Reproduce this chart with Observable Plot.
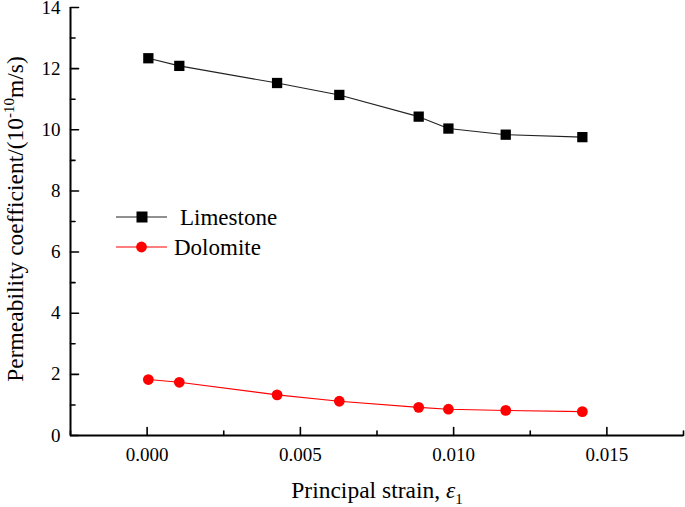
<!DOCTYPE html>
<html><head><meta charset="utf-8">
<script src="https://cdn.jsdelivr.net/npm/d3@7"></script>
<script src="https://cdn.jsdelivr.net/npm/@observablehq/plot@0.6"></script>
<style>body{margin:0;background:#fff}</style>
</head><body><div id="chart"></div>
<script>
const strain = [0.00004, 0.00105, 0.00424, 0.00627, 0.00886, 0.00983, 0.0117, 0.0142];
const limestone = [12.34, 12.09, 11.53, 11.14, 10.43, 10.04, 9.84, 9.76];
const dolomite = [1.83, 1.74, 1.33, 1.12, 0.92, 0.86, 0.82, 0.78];
const seriesNames = ["Limestone", "Dolomite"];
const xMajor = [0, 0.005, 0.010, 0.015];
const xMinor = [-0.0025, 0.0025, 0.0075, 0.0125, 0.0175];
const yMajor = [0, 2, 4, 6, 8, 10, 12, 14];
const yMinor = [1, 3, 5, 7, 9, 11, 13];

const FONT = "Liberation Serif, Times New Roman, serif";
const lime = strain.map((x, i) => ({x, y: limestone[i]}));
const dolo = strain.map((x, i) => ({x, y: dolomite[i]}));
const tickShape = {draw(ctx, l) { ctx.moveTo(0, 0); ctx.lineTo(0, -l); }};

const plot = Plot.plot({
  width: 685, height: 507,
  marginLeft: 70, marginRight: 2, marginTop: 7, marginBottom: 72,
  style: {fontFamily: FONT, background: "white"},
  x: {domain: [-0.0025, 0.0175]},
  y: {domain: [0, 14]},
  marks: [
    Plot.axisX(xMajor, {tickSize: 0, tickPadding: 12, tickFormat: d3.format(".3f"), fontSize: 19, fontFamily: FONT, label: null, color: "black"}),
    Plot.axisY(yMajor, {tickSize: 0, tickPadding: 10, fontSize: 19, fontFamily: FONT, label: null, color: "black"}),
    Plot.vector(xMajor, {x: d => d, y: 0, length: 8, rotate: 0, anchor: "start", shape: tickShape, stroke: "black", strokeWidth: 1.6}),
    Plot.vector(xMinor, {x: d => d, y: 0, length: 4.5, rotate: 0, anchor: "start", shape: tickShape, stroke: "black", strokeWidth: 1.6}),
    Plot.vector(yMajor, {x: -0.0025, y: d => d, length: 8, rotate: 90, anchor: "start", shape: tickShape, stroke: "black", strokeWidth: 1.6}),
    Plot.vector(yMinor, {x: -0.0025, y: d => d, length: 4.5, rotate: 90, anchor: "start", shape: tickShape, stroke: "black", strokeWidth: 1.6}),
    Plot.ruleY([0], {stroke: "black", strokeWidth: 2}),
    Plot.ruleX([-0.0025], {stroke: "black", strokeWidth: 2}),
    Plot.line(lime, {x: "x", y: "y", stroke: "#222", strokeWidth: 1.1}),
    Plot.dot(lime, {x: "x", y: "y", symbol: "square", r: 5.8, fill: "black", stroke: "none"}),
    Plot.line(dolo, {x: "x", y: "y", stroke: "#ff0000", strokeWidth: 1.1}),
    Plot.dot(dolo, {x: "x", y: "y", symbol: "circle", r: 5.4, fill: "#ff0000", stroke: "none"})
  ]
});
document.getElementById("chart").appendChild(plot);

const svg = d3.select(plot);
// y-axis title
const yt = svg.append("text")
  .attr("transform", "translate(23,219) rotate(-90)")
  .attr("text-anchor", "middle")
  .style("font-family", FONT).style("font-size", "23.5px").attr("fill", "black");
yt.append("tspan").text("Permeability coefficient/(10");
yt.append("tspan").attr("dy", -9).style("font-size", "15px").text("-10");
yt.append("tspan").attr("dy", 9).text("m/s)");
// x-axis title
const xt = svg.append("text")
  .attr("x", 377).attr("y", 498)
  .attr("text-anchor", "middle")
  .style("font-family", FONT).style("font-size", "23.5px").attr("fill", "black");
xt.append("tspan").text("Principal strain, ");
xt.append("tspan").style("font-style", "italic").text("ε");
xt.append("tspan").attr("dy", 6).style("font-size", "15px").text("1");
// legend
const legY = [217, 247];
const legTextX = [180, 174];
seriesNames.forEach((name, i) => {
  const g = svg.append("g");
  g.append("line").attr("x1", 116).attr("x2", 167).attr("y1", legY[i]).attr("y2", legY[i])
    .attr("stroke", i === 0 ? "#222" : "#ff0000").attr("stroke-width", 1.1);
  if (i === 0) g.append("rect").attr("x", 136.5).attr("y", legY[i] - 5.5).attr("width", 11).attr("height", 11).attr("fill", "black");
  else g.append("circle").attr("cx", 141.5).attr("cy", legY[i]).attr("r", 5.4).attr("fill", "#ff0000");
  g.append("text").attr("x", legTextX[i]).attr("y", legY[i] + 8)
    .attr("text-anchor", "start")
    .style("font-family", FONT).style("font-size", "23px").attr("fill", "black").text(name);
});
</script>
</body></html>
